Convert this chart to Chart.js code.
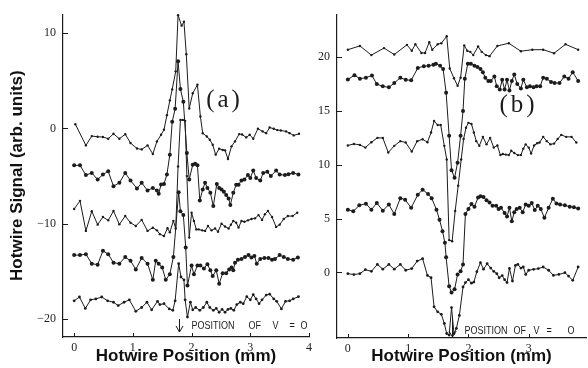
<!DOCTYPE html>
<html>
<head>
<meta charset="utf-8">
<script src="https://cdn.jsdelivr.net/npm/chart.js@4/dist/chart.umd.min.js"></script>
<style>
  html, body { margin: 0; padding: 0; background: #fff; }
  #wrap { position: relative; width: 588px; height: 368px; overflow: hidden; }
  canvas { position: absolute; top: 0; }
  #chartA { left: 0; }
  #chartB { left: 300px; }
</style>
</head>
<body>
<div id="wrap">
  <canvas id="chartA" width="330" height="368"></canvas>
  <canvas id="chartB" width="288" height="368"></canvas>
</div>
<script>
// ---- panel (a): five hotwire scans, offset vertically ----
const aX1 = [0.02,0.2,0.3,0.4,0.49,0.58,0.67,0.77,0.87,0.96,1.07,1.15,1.25,1.34,1.41,1.48,1.53,1.58,1.63,1.67,1.73,1.77,1.83,1.87,1.91,1.96,2.02,2.1,2.15,2.19,2.26,2.31,2.36,2.41,2.47,2.53,2.57,2.62,2.68,2.74,2.81,2.86,2.93,2.99,3.05,3.13,3.21,3.27,3.33,3.4,3.46,3.52,3.61,3.67,3.74,3.83];
const aY1 = [0.45,-1.78,-0.8,-0.87,-0.9,-1.08,-0.56,-1.08,-0.6,-1.53,-2.1,-2.2,-1.78,-2.68,-1.36,-0.66,-0.14,1.4,2.95,4.1,6.0,11.9,10.8,11.2,7.8,2.1,3.7,4.6,1.25,-0.5,-0.84,-1.18,-1.71,-2.75,-2.12,-2.26,-2.3,-3.2,-1.88,-1.36,-0.59,-0.63,-0.94,-0.66,-1.08,-0.03,-0.31,-0.49,0.1,-0.03,-0.17,-0.21,-0.31,-0.49,-0.73,-0.56];

const aX2 = [0,0.1,0.2,0.3,0.4,0.49,0.58,0.67,0.77,0.87,0.96,1.07,1.15,1.25,1.34,1.41,1.44,1.48,1.53,1.58,1.63,1.67,1.72,1.77,1.81,1.86,1.92,1.96,2.02,2.06,2.1,2.14,2.19,2.23,2.27,2.32,2.37,2.43,2.47,2.51,2.55,2.59,2.63,2.66,2.71,2.76,2.8,2.85,2.9,2.96,3.0,3.05,3.1,3.17,3.22,3.29,3.35,3.44,3.5,3.59,3.65,3.73,3.82];
const aY2 = [-3.87,-3.87,-4.9,-4.67,-5.36,-4.84,-4.5,-6.06,-5.71,-4.67,-5.47,-6.3,-5.71,-6.51,-6.24,-6.51,-6.86,-5.89,-5.82,-4.84,-2.75,0.7,2.06,7.07,4.15,2.8,-2.58,-5.36,-3.8,-3.7,-3.87,-7.56,-6.4,-5.71,-6.24,-6.76,-8.15,-5.82,-6.24,-6.4,-6.65,-7.0,-7.35,-8.05,-6.76,-5.9,-5.9,-5.47,-5.36,-4.9,-5.2,-4.42,-5.2,-5.47,-4.67,-4.55,-5.0,-4.42,-4.84,-4.9,-4.8,-4.67,-4.84];

const aX3 = [0,0.1,0.2,0.3,0.4,0.49,0.58,0.67,0.77,0.87,0.96,1.05,1.15,1.25,1.34,1.41,1.46,1.53,1.59,1.63,1.69,1.73,1.77,1.81,1.85,1.89,1.92,1.96,2.0,2.04,2.08,2.12,2.18,2.23,2.28,2.34,2.4,2.45,2.51,2.57,2.63,2.67,2.71,2.76,2.8,2.85,2.9,2.96,3.02,3.08,3.14,3.2,3.25,3.3,3.37,3.44,3.5,3.57,3.64,3.72,3.8];
const aY3 = [-8.46,-7.6,-10.76,-8.7,-10.1,-9.3,-9.65,-8.67,-10.07,-9.2,-9.9,-10.24,-9.6,-10.76,-10.42,-10.7,-11.1,-11.3,-10.48,-10.9,-9.7,-10.5,-4.0,0.9,0.9,0.8,-5.0,-11.46,-8.85,-9.72,-10.6,-10.6,-10.7,-10.76,-10.24,-10.7,-10.5,-10.84,-10.0,-10.3,-10.5,-10.1,-9.72,-9.9,-10.4,-9.72,-9.8,-9.65,-9.5,-9.44,-9.1,-9.6,-9.0,-8.67,-9.3,-10.34,-10.1,-9.5,-9.2,-9.2,-8.85];

const aX4 = [0,0.1,0.2,0.3,0.4,0.49,0.58,0.67,0.77,0.87,0.96,1.05,1.15,1.25,1.34,1.39,1.44,1.5,1.56,1.63,1.69,1.78,1.81,1.86,1.9,1.93,2.0,2.04,2.1,2.15,2.21,2.27,2.32,2.36,2.42,2.47,2.53,2.59,2.64,2.68,2.71,2.74,2.79,2.85,2.91,2.97,3.02,3.07,3.11,3.17,3.24,3.31,3.37,3.42,3.5,3.57,3.64,3.73,3.81];
const aY4 = [-13.3,-13.3,-13.2,-14.2,-14.3,-12.85,-13.2,-14.1,-14.2,-13.5,-13.9,-14.8,-13.6,-14.2,-15.9,-13.9,-14.2,-14.6,-15.9,-15.3,-13.5,-6.7,-8.7,-9.1,-12.5,-16.5,-14.4,-15.3,-14.4,-14.4,-14.7,-14.25,-14.9,-15.5,-14.9,-16.3,-15.2,-15.2,-14.8,-14.6,-14.9,-14.1,-13.8,-13.7,-13.5,-13.3,-13.55,-13.4,-14.2,-13.7,-13.6,-13.6,-13.8,-13.7,-13.3,-13.5,-13.7,-13.8,-13.55];

const aX5 = [0,0.09,0.19,0.28,0.37,0.47,0.57,0.67,0.75,0.85,0.94,1.05,1.15,1.24,1.32,1.42,1.46,1.53,1.62,1.68,1.72,1.78,1.82,1.87,1.89,1.93,1.98,2.02,2.07,2.14,2.2,2.26,2.31,2.37,2.42,2.47,2.52,2.57,2.62,2.67,2.72,2.77,2.83,2.88,2.94,3.0,3.05,3.1,3.15,3.2,3.27,3.33,3.4,3.45,3.53,3.6,3.67,3.73,3.82];
const aY5 = [-18.1,-17.7,-18.9,-18.0,-17.9,-17.7,-18.1,-18.25,-18.6,-18.25,-18.0,-19.2,-18.8,-18.25,-19.05,-18.15,-18.5,-18.4,-18.95,-19.1,-18.1,-14.2,-15.6,-15.9,-18.0,-19.8,-18.25,-19.05,-18.8,-19.1,-18.8,-18.25,-18.8,-19.1,-18.9,-19.3,-19.0,-19.3,-19.0,-18.9,-19.1,-18.5,-18.25,-18.4,-17.66,-18.0,-17.45,-17.9,-18.4,-18.0,-17.5,-17.4,-17.9,-18.15,-18.95,-18.15,-18.1,-17.9,-17.66];

// ---- panel (b) ----
const bX1 = [0,0.2,0.39,0.6,0.77,0.98,1.06,1.12,1.22,1.28,1.35,1.4,1.49,1.55,1.64,1.69,1.76,1.82,1.87,1.93,1.98,2.03,2.08,2.16,2.22,2.29,2.35,2.48,2.67,2.87,3.06,3.24,3.42,3.61,3.82];
const bY1 = [20.7,21.05,20.2,20.85,20.25,21.15,20.6,21.2,20.4,20.4,21.4,20.7,21.2,21.3,21.95,18.95,18.05,17.35,18.1,21.1,20.6,20.5,20.2,21.0,20.5,20.2,20.1,21.05,21.3,20.56,20.7,20.7,20.37,21.2,20.7];

const bX2 = [0,0.11,0.2,0.3,0.4,0.48,0.58,0.68,0.77,0.87,0.96,1.05,1.16,1.26,1.34,1.42,1.46,1.53,1.58,1.63,1.68,1.72,1.77,1.82,1.87,1.91,1.94,1.99,2.04,2.1,2.15,2.2,2.24,2.28,2.33,2.37,2.43,2.47,2.52,2.56,2.6,2.64,2.68,2.72,2.76,2.81,2.87,2.91,2.97,3.02,3.08,3.13,3.19,3.24,3.3,3.37,3.43,3.51,3.59,3.66,3.73,3.82];
const bY2 = [17.93,18.33,18.0,18.1,18.3,17.5,17.3,17.2,17.6,18.1,17.9,17.85,19.0,19.17,19.2,19.3,19.4,19.2,18.9,16.7,12.7,9.5,8.8,10.2,12.7,15.0,18.0,19.4,19.4,19.2,19.1,18.9,18.6,18.1,17.8,17.8,18.2,17.3,17.0,17.9,17.0,17.9,16.9,17.8,18.4,17.5,17.1,17.9,17.2,17.3,17.2,17.3,17.3,18.1,18.0,17.7,17.6,17.6,18.2,18.0,18.6,17.8];

const bX3 = [0,0.1,0.2,0.29,0.39,0.49,0.58,0.67,0.77,0.87,0.96,1.06,1.15,1.24,1.32,1.38,1.43,1.49,1.54,1.6,1.64,1.68,1.73,1.78,1.83,1.88,1.92,1.96,2.0,2.05,2.09,2.13,2.18,2.24,2.3,2.36,2.42,2.48,2.53,2.57,2.62,2.67,2.71,2.76,2.82,2.87,2.91,2.95,3.0,3.04,3.09,3.14,3.18,3.24,3.3,3.36,3.42,3.48,3.54,3.62,3.71,3.79];
const bY3 = [11.8,11.94,11.85,11.6,12.1,12.5,12.5,11.14,11.76,12.2,12.07,11.23,12.2,12.37,12.1,13.0,14.07,13.7,13.7,11.76,10.5,3.0,2.9,5.7,8.05,10.5,12.4,13.45,13.9,13.8,13.0,12.2,11.76,12.6,11.9,12.5,11.6,11.8,10.9,11.0,10.95,10.9,11.3,11.1,10.9,10.9,11.5,11.9,11.6,11.05,11.8,12.0,12.07,12.6,12.2,11.9,11.97,12.4,12.78,12.6,12.6,12.07];

const bX4 = [0,0.09,0.19,0.3,0.39,0.48,0.58,0.68,0.77,0.87,0.95,1.05,1.16,1.24,1.33,1.39,1.47,1.52,1.57,1.61,1.63,1.68,1.72,1.77,1.82,1.87,1.91,1.95,2.0,2.05,2.1,2.16,2.2,2.25,2.3,2.35,2.4,2.46,2.5,2.54,2.6,2.64,2.68,2.72,2.76,2.8,2.85,2.9,2.95,3.0,3.05,3.1,3.15,3.2,3.26,3.33,3.4,3.46,3.52,3.6,3.68,3.75,3.82];
const bY4 = [5.83,5.68,6.23,6.39,5.83,6.45,5.74,6.3,5.43,6.9,6.76,6.0,7.22,7.69,7.29,6.9,5.83,4.9,3.83,2.75,1.4,-1.3,-1.88,-1.57,-0.2,0.1,0.74,5.43,5.9,6.36,6.1,6.97,7.07,7.0,6.7,6.5,6.2,6.2,5.9,6.0,5.53,5.2,6.0,4.75,5.6,5.9,6.0,5.6,6.3,6.2,6.45,5.8,6.2,5.9,5.07,6.0,6.85,6.4,6.3,6.23,6.1,6.05,5.93];

const bX5 = [0,0.1,0.2,0.29,0.39,0.49,0.58,0.68,0.77,0.87,0.96,1.06,1.15,1.24,1.32,1.38,1.43,1.49,1.55,1.6,1.64,1.68,1.72,1.76,1.8,1.85,1.91,1.95,2.0,2.05,2.09,2.14,2.2,2.25,2.31,2.37,2.42,2.47,2.51,2.56,2.6,2.64,2.68,2.73,2.78,2.82,2.87,2.91,2.95,3.0,3.08,3.16,3.24,3.33,3.41,3.5,3.6,3.66,3.73,3.82];
const bY5 = [-0.12,-0.2,-0.12,0.25,0.1,0.74,0.3,0.74,0.3,0.74,0.2,0.35,1.05,1.27,-0.28,-0.49,-3.2,-3.67,-3.9,-4.75,-5.68,-5.83,-3.27,-5.68,-5.2,-4.0,-1.36,-0.95,-0.68,-1.0,-0.9,0.07,0.9,0.3,0.8,0.4,0.1,-0.12,-0.5,-0.3,-0.68,-0.95,0.37,-0.8,0.65,0.74,0.4,0.5,-0.19,0.2,0.28,0.35,0.5,0.2,-0.28,-0.19,-0.03,-0.34,-0.74,0.5];

// tick values and the v = 0 marker position (mm)
const aXTicks = [0, 1, 2, 3, 4];
const aYTicks = [-20, -10, 0, 10];
const bXTicks = [0, 1, 2, 3];
const bYTicks = [0, 5, 10, 15, 20];
const vZeroA = 1.79;
const vZeroB = 1.73;

const ink = '#1c1c1c';
const serif = '"Liberation Serif", "DejaVu Serif", serif';
const sans = '"Liberation Sans", Arial, sans-serif';

function trace(xs, ys, r) {
    return {
        data: xs.map((x, i) => ({ x: x, y: ys[i] })),
        showLine: true,
        borderColor: ink,
        borderWidth: 1,
        pointRadius: r,
        pointHoverRadius: r,
        pointBackgroundColor: ink,
        pointBorderColor: ink,
        pointBorderWidth: 0,
        clip: false
    };
}

function minusLabel(v) {
    return v < 0 ? '\u2212' + Math.abs(v) : String(v);
}

// inward tick marks, panel letter and the "position of v = 0" arrow
const decor = {
    id: 'decor',
    afterDraw(chart, args, opts) {
        const { ctx, chartArea: a, scales: { x, y } } = chart;
        ctx.save();
        ctx.strokeStyle = ink;
        ctx.lineWidth = 1;
        ctx.beginPath();
        y.ticks.forEach(t => {
            const py = Math.round(y.getPixelForValue(t.value)) + 0.5;
            ctx.moveTo(a.left, py);
            ctx.lineTo(a.left + 5, py);
        });
        x.ticks.forEach(t => {
            const px = Math.round(x.getPixelForValue(t.value)) + 0.5;
            ctx.moveTo(px, a.bottom);
            ctx.lineTo(px, a.bottom - 4);
        });
        ctx.stroke();

        // panel letter, loosely spaced like the typeset original
        ctx.fillStyle = ink;
        ctx.font = '25px ' + serif;
        ctx.textAlign = 'center';
        ctx.textBaseline = 'middle';
        ctx.letterSpacing = '3px';
        ctx.fillText(opts.letter, opts.letterX + 1.5, opts.letterY);
        ctx.letterSpacing = '0px';

        // arrow
        const ax = Math.round(x.getPixelForValue(opts.vZero)) + 0.5;
        ctx.beginPath();
        ctx.moveTo(ax, opts.arrowTop);
        ctx.lineTo(ax, opts.arrowBottom);
        ctx.moveTo(ax - 3.5, opts.arrowBottom - 6);
        ctx.lineTo(ax, opts.arrowBottom);
        ctx.lineTo(ax + 3.5, opts.arrowBottom - 6);
        ctx.stroke();

        // narrow caption words
        ctx.font = '10px ' + sans;
        ctx.textAlign = 'left';
        opts.words.forEach(w => {
            ctx.save();
            ctx.translate(ax + opts.textGap + w[1], opts.textY);
            ctx.scale(0.9, 1);
            ctx.fillText(w[0], 0, 0);
            ctx.restore();
        });
        ctx.restore();
    }
};

function makePanel(id, datasets, cfg) {
    return new Chart(document.getElementById(id), {
        type: 'scatter',
        data: { datasets: datasets },
        options: {
            responsive: false,
            animation: false,
            events: [],
            layout: { padding: cfg.padding },
            plugins: {
                legend: { display: false },
                tooltip: { enabled: false },
                decor: cfg.decor
            },
            scales: {
                x: {
                    type: 'linear',
                    min: cfg.xMin,
                    max: cfg.xMax,
                    afterBuildTicks: s => { s.ticks = cfg.xTicks.map(v => ({ value: v })); },
                    afterFit: s => { s.height = cfg.xAxisHeight; },
                    grid: { display: false, drawTicks: false },
                    border: { display: true, color: ink, width: 1.2 },
                    ticks: { color: ink, padding: 4, font: { family: serif, size: 12 }, callback: minusLabel },
                    title: {
                        display: true,
                        text: 'Hotwire Position (mm)',
                        color: '#111',
                        font: { family: sans, size: 17, weight: 'bold' },
                        padding: { top: 0, bottom: 1 }
                    }
                },
                y: {
                    type: 'linear',
                    min: cfg.yMin,
                    max: cfg.yMax,
                    afterBuildTicks: s => { s.ticks = cfg.yTicks.map(v => ({ value: v })); },
                    afterFit: s => { s.width = cfg.yAxisWidth; },
                    grid: { display: false, drawTicks: false },
                    border: { display: true, color: ink, width: 1.2 },
                    ticks: { color: ink, padding: 7, font: { family: serif, size: 12 }, callback: minusLabel },
                    title: cfg.yTitle
                }
            }
        },
        plugins: [decor]
    });
}

makePanel('chartA', [
    trace(aX1, aY1, 1.2),
    trace(aX2, aY2, 2),
    trace(aX3, aY3, 1.2),
    trace(aX4, aY4, 2),
    trace(aX5, aY5, 1.4)
], {
    padding: { left: 0, top: 12, right: 21, bottom: 0 },
    xMin: -0.19, xMax: 4.0, yMin: -21.9, yMax: 12.0,
    xTicks: aXTicks, yTicks: aYTicks,
    xAxisHeight: 31, yAxisWidth: 63,
    yTitle: {
        display: true,
        text: 'Hotwire Signal (arb. units)',
        color: '#111',
        font: { family: sans, size: 17, weight: 'bold' },
        padding: { top: 7, bottom: 0 }
    },
    decor: {
        letter: '(a)', letterX: 223, letterY: 100,
        vZero: vZeroA, arrowTop: 319, arrowBottom: 332,
        textGap: 12, textY: 326,
        words: [['POSITION', 0], ['OF', 57], ['V', 81], ['=', 98], ['O', 109]]
    }
});

// canvas B starts at page x = 300, so its letter sits at 517 - 300
makePanel('chartB', [
    trace(bX1, bY1, 1.2),
    trace(bX2, bY2, 2),
    trace(bX3, bY3, 1.2),
    trace(bX4, bY4, 2),
    trace(bX5, bY5, 1.4)
], {
    padding: { left: 0, top: 13, right: 0, bottom: 0 },
    xMin: -0.18, xMax: 3.95, yMin: -6.1, yMax: 24.0,
    xTicks: bXTicks, yTicks: bYTicks,
    xAxisHeight: 30, yAxisWidth: 37,
    yTitle: { display: false },
    decor: {
        letter: '(b)', letterX: 217, letterY: 105,
        vZero: vZeroB, arrowTop: 318, arrowBottom: 337,
        textGap: 12, textY: 331,
        words: [['POSITION', 0], ['OF', 49], ['V', 69], ['=', 82], ['O', 103]]
    }
});
</script>
</body>
</html>
